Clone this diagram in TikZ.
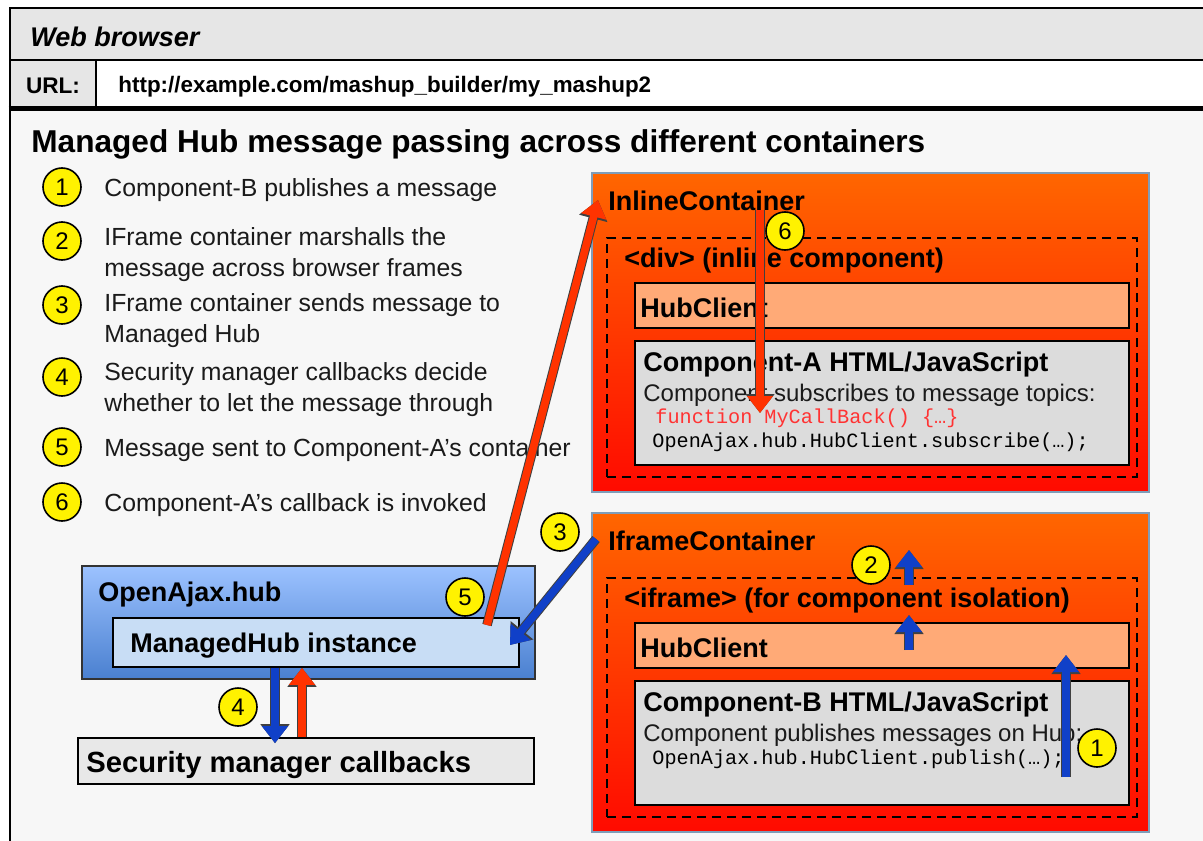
\documentclass[tikz,border=0pt]{standalone}
\usepackage{fontspec}
\setmainfont{Liberation Sans}
\setmonofont{Liberation Mono}
\usetikzlibrary{arrows.meta,fit}

\definecolor{barGray}{HTML}{E6E6E6}
\definecolor{pageGray}{HTML}{F7F7F7}
\definecolor{contTop}{HTML}{FF6600}
\definecolor{contMid}{HTML}{FF4E00}
\definecolor{contBot}{HTML}{FF0A00}
\definecolor{contLine}{HTML}{7F9DB9}
\definecolor{clientFill}{HTML}{FFAA77}
\definecolor{compFill}{HTML}{DCDCDC}
\definecolor{hubTop}{HTML}{9CC2FF}
\definecolor{hubBot}{HTML}{4A80D0}
\definecolor{mhubFill}{HTML}{C8DDF5}
\definecolor{secFill}{HTML}{E8E8E8}
\definecolor{flowBlue}{HTML}{1040C8}
\definecolor{flowRed}{HTML}{FF3300}
\definecolor{codeRed}{HTML}{FF3333}
\definecolor{listText}{HTML}{1A1A1A}

\tikzset{
  bar/.style={inner sep=0pt, draw, line width=1.4pt},
  container/.style={inner sep=0pt, draw=contLine, line width=0.6pt,
    top color=contTop, middle color=contMid, bottom color=contBot},
  frame/.style={inner sep=0pt, draw, dashed, dash pattern=on 4.5pt off 3pt, line width=0.9pt},
  panel/.style={inner sep=0pt, draw, line width=0.8pt, fill=#1},
  num/.style={circle, draw, line width=0.8pt, fill=yellow, minimum size=19pt,
    inner sep=0pt, font=\fontsize{12}{12}\selectfont},
  item/.style={anchor=west, inner sep=0pt, align=left, text=listText, yshift=-1.3pt,
    font=\fontsize{12.4}{15.5}\selectfont},
  lbl/.style={anchor=west, inner sep=0pt, yshift=-1.3pt, font=\bfseries\fontsize{13.5}{16}\selectfont},
  txt/.style={anchor=west, inner sep=0pt, text=listText, yshift=-1.3pt, font=\fontsize{12}{14}\selectfont},
  code/.style={anchor=west, inner sep=0pt, yshift=-1pt, font=\ttfamily\fontsize{10.1}{12}\selectfont},
  flow/.style={draw=#1, line width=3.8pt, -{Triangle[length=8.5pt,width=12.5pt]},
    preaction={draw=black!75, line width=4.8pt, -{Triangle[length=9.5pt,width=14pt]}}}
}

\begin{document}
\begin{tikzpicture}[x=0.5pt,y=-0.5pt]
\useasboundingbox (0,0) rectangle (1203,840);
\clip (0,0) rectangle (1203,840);
\fill[white] (0,0) rectangle (1203,840);

\node[bar, fill=pageGray, fit={(10,8) (1240,880)}] (browser) {};
\node[bar, fill=barGray, fit={(10,8) (1240,60)}] (titlebar) {};
\node[bar, fill=barGray, fit={(10,60) (96,107)}] (urlcell) {};
\node[bar, fill=white, fit={(96,60) (1240,107)}] (urlfield) {};
\draw[line width=2.2pt] (urlcell.south west) -- (urlfield.south east);

\node[lbl, font=\bfseries\itshape\fontsize{13.5}{16}\selectfont] (webtitle) at (30,34) {Web browser};
\node[lbl, anchor=center, font=\bfseries\fontsize{11.3}{14}\selectfont] (urltag) at (urlcell.center) {URL:};
\node[lbl, font=\bfseries\fontsize{11.2}{14}\selectfont] (urltext) at (118,84) {http://example.com/mashup\_builder/my\_mashup2};

\node[lbl, font=\bfseries\fontsize{15.8}{18}\selectfont] (heading) at (31,142) {Managed Hub message passing across different containers};

\node[num] (n1) at (62,187) {1};
\node[num] (n2) at (62,241) {2};
\node[num] (n3) at (62,305) {3};
\node[num] (n4) at (62,377) {4};
\node[num] (n5) at (62,447) {5};
\node[num] (n6) at (62,502) {6};
\node[item] (t1) at (104,187) {Component-B publishes a message};
\node[item] (t2) at (104,251.5) {IFrame container marshalls the\\message across browser frames};
\node[item] (t3) at (104,318) {IFrame container sends message to\\Managed Hub};
\node[item] (t4) at (104,387) {Security manager callbacks decide\\whether to let the message through};
\node[item] (t5) at (104,447) {Message sent to Component-A's container};
\node[item] (t6) at (104,502) {Component-A's callback is invoked};

\node[container, fit={(592,173) (1149,492)}] (inline) {};
\node[lbl] (intitle) at (608,198) {InlineContainer};
\node[frame, fit={(607,238) (1137,477)}] (divframe) {};
\node[lbl] (divtitle) at (624,258) {<div> (inline component)};
\node[panel=clientFill, fit={(635,283) (1129,328)}] (clientA) {};
\node[lbl] at (640,305) {HubClient};
\node[panel=compFill, fit={(635,341) (1129,465)}] (compA) {};
\node[lbl] (compAtitle) at (643,362) {Component-A HTML/JavaScript};
\node[txt] (compAtext) at (643,393) {Component subscribes to message topics:};
\node[code, text=codeRed] (compAcb) at (655,416) {function MyCallBack() \{…\}};
\node[code] (compAsub) at (652,440) {OpenAjax.hub.HubClient.subscribe(…);};

\node[container, fit={(592,513) (1149,832)}] (iframe) {};
\node[lbl] (iftitle) at (608,538) {IframeContainer};
\node[frame, fit={(607,578) (1137,817)}] (ifrframe) {};
\node[lbl] (ifrtitle) at (624,598) {<iframe> (for component isolation)};
\node[panel=clientFill, fit={(635,623) (1129,668)}] (clientB) {};
\node[lbl] at (640,645) {HubClient};
\node[panel=compFill, fit={(635,681) (1129,805)}] (compB) {};
\node[lbl] (compBtitle) at (643,702) {Component-B HTML/JavaScript};
\node[txt] (compBtext) at (643,733) {Component publishes messages on Hub:};
\node[code] (compBpub) at (652,757) {OpenAjax.hub.HubClient.publish(…);};

\node[inner sep=0pt, draw=black!80, line width=0.8pt, top color=hubTop, bottom color=hubBot,
  fit={(82,566) (535,679)}] (hub) {};
\node[lbl] (hubtitle) at (98,592) {OpenAjax.hub};
\node[panel=mhubFill, fit={(113,618) (519,667)}] (mhub) {};
\node[lbl] (mhubtitle) at (130,643) {ManagedHub instance};
\node[panel=secFill, fit={(78,738) (534,784)}] (sec) {};
\node[lbl, font=\bfseries\fontsize{14.6}{16}\selectfont] (sectitle) at (86,762) {Security manager callbacks};

\coordinate (p1a) at (1066,777);
\coordinate (p1b) at (1066,655);
\coordinate (p2a) at (909,650);
\coordinate (p2b) at (909,615);
\coordinate (p2c) at (909,585);
\coordinate (p2d) at (909,550);
\coordinate (p3a) at (596,539);
\coordinate (p3b) at (510,645);
\coordinate (p4a) at (275,0);
\coordinate (p4b) at (302,0);
\coordinate (p5a) at (487,625);
\coordinate (p5b) at (598,200);
\coordinate (p6a) at (760,210);
\coordinate (p6b) at (760,413);

\draw[flow=flowBlue] (p1a) -- (p1b);
\draw[flow=flowBlue] (p2a) -- (p2b);
\draw[flow=flowBlue] (p2c) -- (p2d);
\draw[flow=flowBlue] (p3a) -- (p3b);
\draw[flow=flowBlue] (mhub.south -| p4a) -- ([yshift=-3pt]sec.north -| p4a);
\draw[flow=flowRed] (sec.north -| p4b) -- (mhub.south -| p4b);
\draw[flow=flowRed] (p5a) -- (p5b);
\draw[flow=flowRed] (p6a) -- (p6b);

\node[num] (m1) at (1097,748) {1};
\node[num] (m2) at (871,565) {2};
\node[num] (m3) at (560,532) {3};
\node[num] (m4) at (238,707) {4};
\node[num] (m5) at (465,597) {5};
\node[num] (m6) at (785,231) {6};
\end{tikzpicture}
\end{document}
